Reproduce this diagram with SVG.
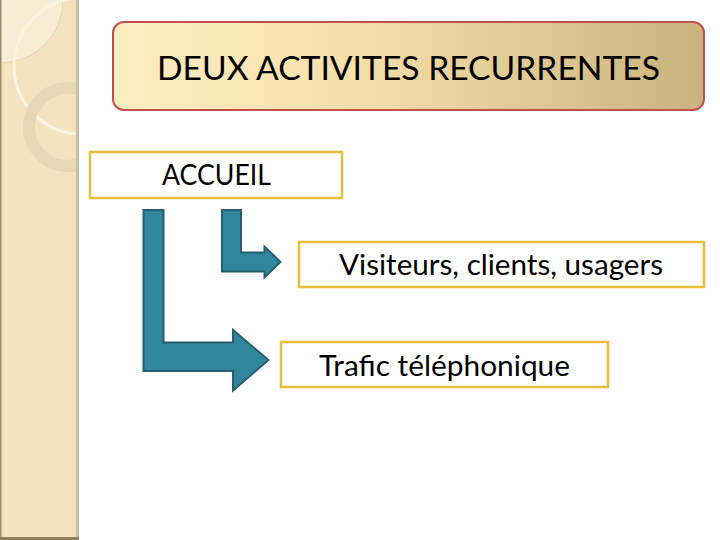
<svg xmlns="http://www.w3.org/2000/svg" width="720" height="540" viewBox="0 0 720 540">
<defs>
<style>
.box{fill:#ffffff;stroke:#e8bf3c;stroke-width:2.5}
.txt{font-family:Lato,"Open Sans","Liberation Sans",sans-serif;font-weight:400;fill:#000000}
.arrow{fill:#31859c;stroke:#255f70;stroke-width:2;stroke-linejoin:miter}
</style>
<linearGradient id="titleGrad" x1="0" y1="0" x2="1" y2="0">
<stop offset="0" stop-color="#fdeec2"/>
<stop offset="0.4" stop-color="#f5e0aa"/>
<stop offset="1" stop-color="#c9b27e"/>
</linearGradient>
<clipPath id="stripClip"><rect x="0" y="0" width="78" height="540"/></clipPath>
</defs>
<rect x="0" y="0" width="720" height="540" fill="#ffffff"/>
<g id="decor">
<rect x="0" y="0" width="79" height="540" fill="#f3e3c0"/>
<g clip-path="url(#stripClip)">
<path d="M0 0 L63 0 A63 63 0 0 1 0 63 Z" fill="#f8edd5"/>
<path d="M63 0 A63 63 0 0 1 0 63" fill="none" stroke="#e6d6b4" stroke-width="1"/>
<circle cx="82" cy="66" r="68" fill="none" stroke="#fbf4e2" stroke-width="3"/>
<circle cx="68" cy="127" r="39" fill="none" stroke="#e6d7b6" stroke-width="12"/>
</g>
<rect x="76" y="0" width="3" height="540" fill="#cbbf9f"/>
<rect x="0" y="0" width="1.5" height="540" fill="#9e8b66"/>
<rect x="0" y="537" width="79" height="3" fill="#8f7c59"/>
</g>
<g id="title">
<rect x="113" y="22" width="591" height="88" rx="11" ry="11" fill="url(#titleGrad)" stroke="#c0504d" stroke-width="2"/>
<text class="txt" x="157" y="80" font-size="32" textLength="503" lengthAdjust="spacingAndGlyphs">DEUX ACTIVITES RECURRENTES</text>
</g>
<g id="accueil">
<rect class="box" x="90" y="152" width="252" height="46"/>
<text class="txt" x="162" y="185" font-size="28" textLength="109" lengthAdjust="spacingAndGlyphs">ACCUEIL</text>
</g>
<g id="visiteurs">
<rect class="box" x="299" y="242" width="405" height="45"/>
<text class="txt" x="339" y="275" font-size="28" textLength="324" lengthAdjust="spacingAndGlyphs">Visiteurs, clients, usagers</text>
</g>
<g id="trafic">
<rect class="box" x="281" y="342" width="327" height="45"/>
<text class="txt" x="319" y="376" font-size="28" textLength="251" lengthAdjust="spacingAndGlyphs">Trafic téléphonique</text>
</g>
<g id="connectors">
<path class="arrow" d="M222 210 L241 210 L241 252.5 L264.5 252.5 L264.5 246.5 L280.5 262 L264.5 277.5 L264.5 271.5 L222 271.5 Z"/>
<path class="arrow" d="M143.5 210 L163.5 210 L163.5 342.5 L233 342.5 L233 330 L268.5 360 L233 390.5 L233 371 L143.5 371 Z"/>
</g>
</svg>
